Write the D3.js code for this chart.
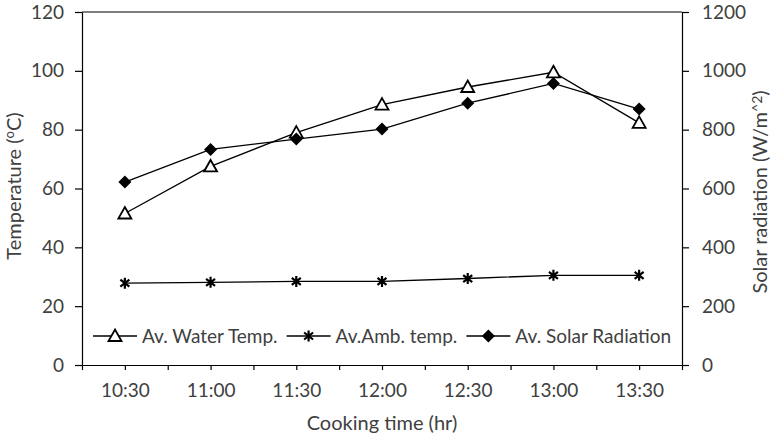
<!DOCTYPE html>
<html>
<head>
<meta charset="utf-8">
<script src="https://cdn.jsdelivr.net/npm/d3@7/dist/d3.min.js"></script>
<style>
  html, body { margin: 0; padding: 0; background: #fff; }
  svg text { font-family: Lato, "Open Sans", sans-serif; fill: #404040; }
</style>
</head>
<body>
<svg id="chart" width="775" height="439"></svg>
<script>
// ===== DATA =====
const times      = ['10:30', '11:00', '11:30', '12:00', '12:30', '13:00', '13:30'];
const waterTemp  = [51.5, 67.5, 79, 88.5, 94.5, 99.5, 82.3];
const ambTemp    = [27.8, 28.1, 28.4, 28.4, 29.4, 30.5, 30.5];
const solarRad   = [622, 733, 768, 802, 890, 957, 870];
const tempTicks  = [0, 20, 40, 60, 80, 100, 120];
const solarTicks = [0, 200, 400, 600, 800, 1000, 1200];

// ===== LAYOUT =====
const M = { left: 82, right: 682, top: 12, bottom: 365 };
const FONT_PX = 19;
const TITLE_PX = 20;
const INK = '#000';

const svg = d3.select('#chart');

const x = d3.scaleLinear().domain([-0.5, times.length - 0.5]).range([M.left, M.right]);
const yT = d3.scaleLinear().domain([0, 120]).range([M.bottom, M.top]);
const yS = d3.scaleLinear().domain([0, 1200]).range([M.bottom, M.top]);

// plot frame (top line)
svg.append('line')
  .attr('x1', M.left).attr('x2', M.right)
  .attr('y1', M.top).attr('y2', M.top)
  .attr('stroke', INK).attr('stroke-width', 1.2);

function styleAxis(g) {
  g.attr('font-family', null).attr('font-size', null);
  g.select('.domain').attr('stroke', INK).attr('stroke-width', 1.2);
  g.selectAll('.tick line').attr('stroke', INK).attr('stroke-width', 1.2);
  g.selectAll('.tick text')
    .attr('font-size', FONT_PX + 'px')
    .attr('fill', '#404040');
}

// x axis: ticks at band edges and centres
svg.append('g')
  .attr('transform', `translate(0,${M.bottom})`)
  .call(d3.axisBottom(x)
    .tickValues(d3.range(-0.5, times.length - 0.49, 0.5))
    .tickFormat(i => Number.isInteger(i) ? times[i] : '')
    .tickSize(5).tickSizeOuter(0).tickPadding(14))
  .call(styleAxis);

svg.append('g')
  .attr('transform', `translate(${M.left},0)`)
  .call(d3.axisLeft(yT).tickValues(tempTicks).tickFormat(d3.format('d'))
    .tickSize(7).tickSizeOuter(0).tickPadding(11))
  .call(styleAxis);

svg.append('g')
  .attr('transform', `translate(${M.right},0)`)
  .call(d3.axisRight(yS).tickValues(solarTicks).tickFormat(d3.format('d'))
    .tickSize(7).tickSizeOuter(0).tickPadding(13))
  .call(styleAxis);

// axis titles
svg.append('text')
  .attr('x', (M.left + M.right) / 2).attr('y', 430)
  .attr('text-anchor', 'middle').attr('font-size', TITLE_PX + 'px')
  .text('Cooking time (hr)');

const lt = svg.append('text')
  .attr('transform', 'translate(21,186) rotate(-90)')
  .attr('text-anchor', 'middle').attr('font-size', TITLE_PX + 'px');
lt.append('tspan').text('Temperature (');
lt.append('tspan').text('o').attr('font-size', '13px').attr('dy', -7);
lt.append('tspan').text('C)').attr('dy', 7);

const rt = svg.append('text')
  .attr('transform', 'translate(767,192) rotate(-90)')
  .attr('text-anchor', 'middle').attr('font-size', TITLE_PX + 'px');
rt.append('tspan').text('Solar radiation (W/m');
rt.append('tspan').text('^2').attr('font-size', '14px').attr('dy', -5);
rt.append('tspan').text(')').attr('dy', 5);

// ===== MARKERS =====
function drawMarker(g, type, cx, cy) {
  if (type === 'triangle') {
    g.append('path')
      .attr('d', `M${cx},${cy - 6.5}L${cx + 6.5},${cy + 5}L${cx - 6.5},${cy + 5}Z`)
      .attr('fill', '#fff').attr('stroke', INK).attr('stroke-width', 1.8);
  } else if (type === 'diamond') {
    g.append('path')
      .attr('d', `M${cx},${cy - 6.5}L${cx + 6.5},${cy}L${cx},${cy + 6.5}L${cx - 6.5},${cy}Z`)
      .attr('fill', INK);
  } else {
    const r = 5.5, dx = 4.5, dy = 3.5;
    g.append('path')
      .attr('d', `M${cx},${cy - r}L${cx},${cy + r}` +
                 `M${cx - dx},${cy - dy}L${cx + dx},${cy + dy}` +
                 `M${cx - dx},${cy + dy}L${cx + dx},${cy - dy}`)
      .attr('stroke', INK).attr('stroke-width', 2.2).attr('fill', 'none');
  }
}

const series = [
  { name: 'Av. Water Temp.',     values: waterTemp, y: yT, marker: 'triangle' },
  { name: 'Av.Amb. temp.',       values: ambTemp,   y: yT, marker: 'star' },
  { name: 'Av. Solar Radiation', values: solarRad,  y: yS, marker: 'diamond' }
];

const line = d3.line();
series.forEach(s => {
  const pts = s.values.map((v, i) => [x(i), s.y(v)]);
  svg.append('path')
    .attr('d', line(pts))
    .attr('fill', 'none').attr('stroke', INK).attr('stroke-width', 1.3);
  const g = svg.append('g');
  pts.forEach(p => drawMarker(g, s.marker, p[0], p[1]));
});

// ===== LEGEND =====
const legendY = 336;
let lx = 93;
series.forEach(s => {
  const g = svg.append('g');
  g.append('line')
    .attr('x1', lx).attr('x2', lx + 44)
    .attr('y1', legendY).attr('y2', legendY)
    .attr('stroke', INK).attr('stroke-width', 1.3);
  drawMarker(g, s.marker, lx + 22, legendY);
  const t = g.append('text')
    .attr('x', lx + 49).attr('y', legendY + 7)
    .attr('font-size', FONT_PX + 'px')
    .text(s.name);
  lx += 49 + t.node().getComputedTextLength() + 9;
});
</script>
</body>
</html>
